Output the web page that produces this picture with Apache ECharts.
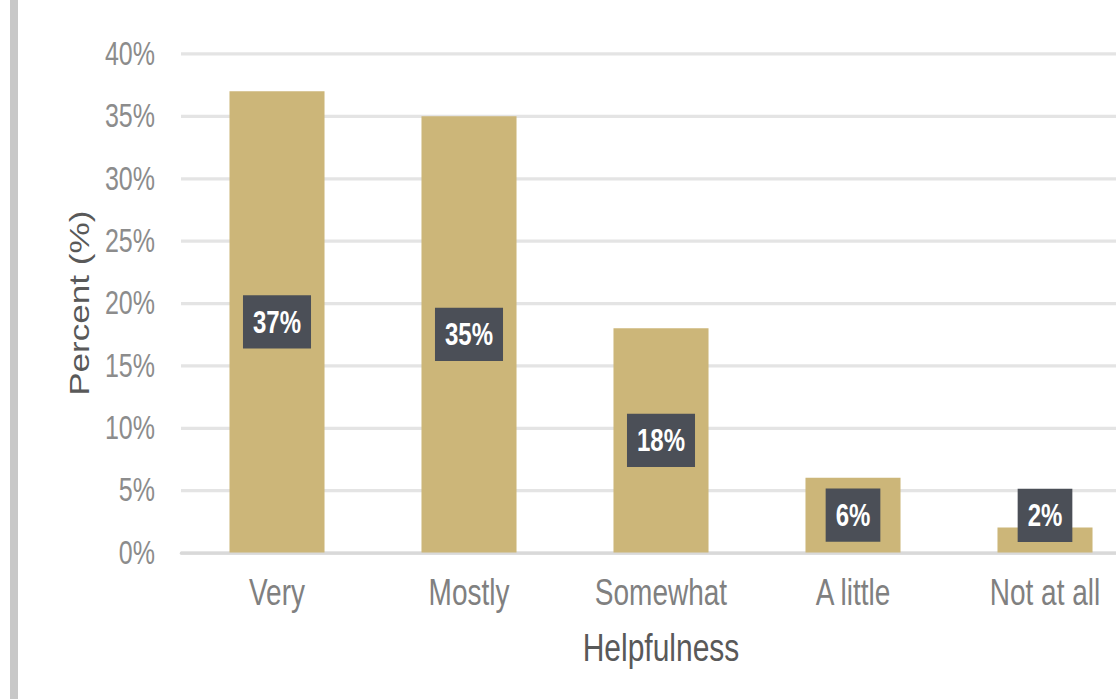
<!DOCTYPE html>
<html>
<head>
<meta charset="utf-8">
<script src="https://cdn.jsdelivr.net/npm/echarts@6/dist/echarts.min.js"></script>
<style>
  html, body { margin: 0; padding: 0; background: #fff; }
  body { width: 1116px; height: 699px; overflow: hidden; }
  /* the chart is laid out on a shorter canvas and stretched to full height,
     giving the tall, narrow lettering of the original export */
  #chart { width: 1116px; height: 537.7px; transform: scaleY(1.3); transform-origin: 0 0; }
</style>
</head>
<body>
<div id="chart"></div>
<script>
// Survey responses: how helpful respondents found the service
const categories = ['Very', 'Mostly', 'Somewhat', 'A little', 'Not at all'];
const percents = [37, 35, 18, 6, 2];
const yTicks = [0, 5, 10, 15, 20, 25, 30, 35, 40];

const FONT = '"Liberation Sans", Arial, sans-serif';

const chart = echarts.init(document.getElementById('chart'), null, { renderer: 'svg' });

const barData = percents.map(function (v) {
  const item = { value: v };
  // the smallest bar is too short for its tag, so the tag sits a little higher
  if (v < 4) item.label = { offset: [0, -19] };
  return item;
});

chart.setOption({
  animation: false,
  backgroundColor: '#ffffff',
  graphic: [{
    type: 'rect',
    shape: { x: 10, y: 0, width: 8, height: 540 },
    style: { fill: '#c8c8c8' },
    silent: true
  }],
  grid: { left: 181, right: -25, top: 41.5, bottom: 113, outerBoundsMode: 'none' },
  xAxis: {
    type: 'category',
    data: categories,
    name: 'Helpfulness',
    nameLocation: 'middle',
    nameGap: 58,
    nameTextStyle: { fontFamily: FONT, fontSize: 30, color: '#595959' },
    axisLine: { show: true, lineStyle: { color: '#d9d9d9', width: 2.5 } },
    axisTick: { show: false },
    axisLabel: { fontFamily: FONT, fontSize: 28, color: '#808080', margin: 17 }
  },
  yAxis: {
    type: 'value',
    min: yTicks[0],
    max: yTicks[yTicks.length - 1],
    interval: 5,
    name: 'Percent (%)',
    nameLocation: 'middle',
    nameGap: 88,
    nameTextStyle: { fontFamily: FONT, fontSize: 27, color: '#595959' },
    axisLine: { show: false },
    axisTick: { show: false },
    axisLabel: {
      fontFamily: FONT, fontSize: 25, color: '#8c8c8c', margin: 26,
      formatter: function (v) { return v + '%'; }
    },
    splitLine: { lineStyle: { color: '#e4e4e4', width: 2.5 } }
  },
  series: [{
    type: 'bar',
    data: barData,
    barWidth: '49.5%',
    itemStyle: { color: '#ccb679' },
    label: {
      show: true,
      position: 'inside',
      formatter: function (p) { return p.value + '%'; },
      fontFamily: FONT,
      fontSize: 24,
      fontWeight: 'bold',
      color: '#ffffff',
      backgroundColor: '#4b4f57',
      padding: [9, 10, 8, 10]
    }
  }]
});
</script>
</body>
</html>
